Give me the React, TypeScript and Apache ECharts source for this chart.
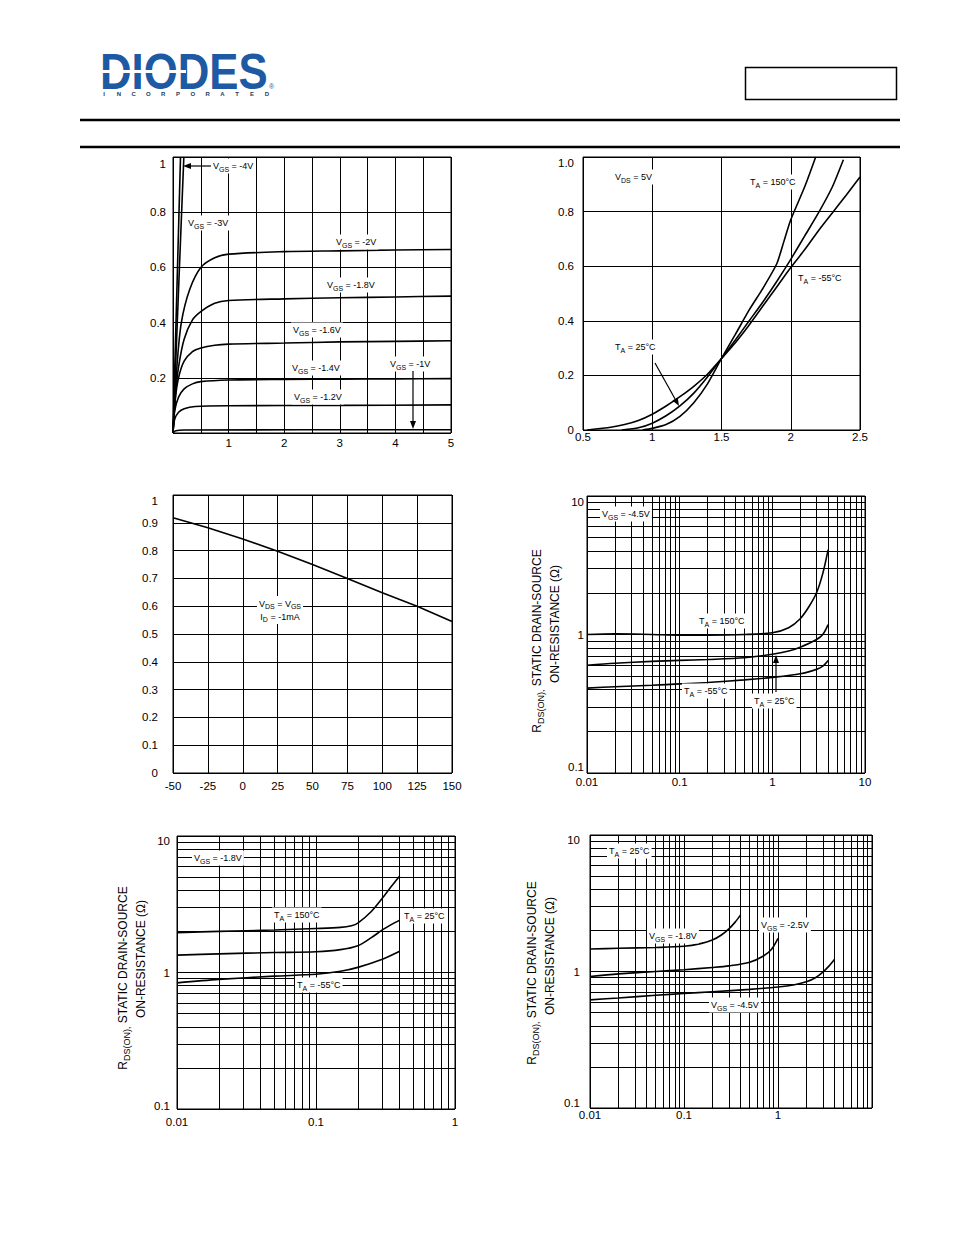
import React, { useEffect, useRef } from 'react';
import * as echarts from 'echarts';

const FONT = '"Liberation Sans", Arial, Helvetica, sans-serif';
const INK = '#000000';
const BLUE = '#1d5aa3';

// ---------- Chart 1: drain current vs drain-source voltage ----------
const c1XLabels = ['', '', '1', '', '2', '', '3', '', '4', '', '5'];
const c1YLabels = ['', '0.2', '0.4', '0.6', '0.8', '{t1|1}'];
const c1Vgs4 = [[0, 0], [0.135, 1.0]];
const c1Vgs3 = [[0, 0], [0.1, 0.52], [0.195, 1.0]];
const c1Vgs2 = [[0, 0], [0.07, 0.24], [0.15, 0.4], [0.3, 0.52], [0.5, 0.6], [0.75, 0.635], [1, 0.648], [2, 0.657], [3, 0.66], [4, 0.663], [5, 0.665]];
const c1Vgs18 = [[0, 0], [0.05, 0.15], [0.1, 0.24], [0.2, 0.34], [0.35, 0.41], [0.5, 0.44], [0.75, 0.47], [1, 0.48], [2, 0.486], [3, 0.49], [4, 0.493], [5, 0.496]];
const c1Vgs16 = [[0, 0], [0.04, 0.12], [0.1, 0.2], [0.2, 0.26], [0.35, 0.295], [0.5, 0.308], [0.75, 0.318], [1, 0.322], [2, 0.326], [3, 0.33], [4, 0.332], [5, 0.334]];
const c1Vgs14 = [[0, 0], [0.03, 0.08], [0.1, 0.13], [0.2, 0.16], [0.35, 0.178], [0.5, 0.186], [1, 0.192], [2, 0.194], [3, 0.195], [4, 0.196], [5, 0.197]];
const c1Vgs12 = [[0, 0], [0.03, 0.05], [0.1, 0.075], [0.2, 0.088], [0.4, 0.096], [1, 0.099], [3, 0.1], [5, 0.102]];
const c1Vgs10 = [[0, 0], [0.05, 0.008], [0.2, 0.011], [5, 0.012]];

// ---------- Chart 2: drain current vs gate-source voltage ----------
const c2XLabels = ['0.5', '1', '1.5', '2', '2.5'];
const c2YLabels = ['0', '0.2', '0.4', '0.6', '0.8', '{t2|1.0}'];
const c2Ta150 = [[0.93, 0], [1.0, 0.006], [1.1, 0.02], [1.2, 0.05], [1.3, 0.1], [1.4, 0.17], [1.5, 0.262], [1.6, 0.35], [1.7, 0.44], [1.8, 0.52], [1.9, 0.61], [1.95, 0.69], [2.0, 0.77], [2.1, 0.89], [2.18, 1.0]];
const c2Ta25 = [[0.78, 0], [0.9, 0.008], [1.0, 0.025], [1.1, 0.052], [1.2, 0.088], [1.3, 0.135], [1.4, 0.195], [1.5, 0.262], [1.6, 0.33], [1.7, 0.4], [1.8, 0.47], [1.9, 0.545], [2.0, 0.625], [2.1, 0.71], [2.2, 0.795], [2.3, 0.89], [2.38, 0.99]];
const c2Ta55 = [[0.53, 0], [0.7, 0.01], [0.8, 0.02], [0.9, 0.035], [1.0, 0.058], [1.1, 0.088], [1.2, 0.122], [1.3, 0.16], [1.4, 0.205], [1.5, 0.262], [1.6, 0.32], [1.7, 0.385], [1.8, 0.455], [1.9, 0.525], [2.0, 0.595], [2.1, 0.66], [2.2, 0.73], [2.3, 0.795], [2.4, 0.86], [2.5, 0.927]];

// ---------- Chart 3: gate threshold voltage vs temperature ----------
const c3XLabels = ['-50', '-25', '0', '25', '50', '75', '100', '125', '150'];
const c3YLabels = ['0', '0.1', '0.2', '0.3', '0.4', '0.5', '0.6', '0.7', '0.8', '0.9', '{t3|1}'];
const c3Vth = [[-50, 0.918], [-25, 0.882], [0, 0.842], [25, 0.798], [50, 0.75], [75, 0.7], [100, 0.648], [125, 0.6], [150, 0.545]];

// ---------- Chart 4: RDS(on) vs drain current, VGS = -4.5V ----------
const c4XLabels = ['0.01', '0.1', '1', '10'];
const c4YLabels = ['{b4|0.1}', '1', '{t4|10}'];
const c4Ta150 = [[0.01, 1.0], [0.02, 1.01], [0.05, 1.0], [0.1, 0.99], [0.2, 0.99], [0.5, 1.0], [1, 1.03], [1.5, 1.12], [2, 1.3], [2.5, 1.6], [3, 2.0], [3.5, 2.75], [4, 4.1]];
const c4Ta25 = [[0.01, 0.6], [0.02, 0.62], [0.05, 0.64], [0.1, 0.65], [0.2, 0.66], [0.5, 0.68], [1, 0.72], [1.5, 0.76], [2, 0.81], [3, 0.92], [3.5, 1.0], [4, 1.18]];
const c4Ta55 = [[0.01, 0.41], [0.02, 0.42], [0.05, 0.43], [0.1, 0.44], [0.2, 0.45], [0.5, 0.47], [1, 0.49], [2, 0.52], [3, 0.56], [3.5, 0.59], [4, 0.65]];

// ---------- Chart 5: RDS(on) vs drain current, VGS = -1.8V ----------
const c5XLabels = ['0.01', '0.1', '1'];
const c5YLabels = ['{b5|0.1}', '1', '{t5|10}'];
const c5Ta150 = [[0.01, 1.96], [0.02, 2.0], [0.05, 2.05], [0.1, 2.1], [0.15, 2.14], [0.18, 2.2], [0.2, 2.3], [0.25, 2.8], [0.3, 3.5], [0.35, 4.3], [0.4, 5.1]];
const c5Ta25 = [[0.01, 1.34], [0.02, 1.37], [0.05, 1.4], [0.1, 1.42], [0.15, 1.47], [0.2, 1.57], [0.25, 1.8], [0.3, 2.05], [0.35, 2.25], [0.4, 2.42]];
const c5Ta55 = [[0.01, 0.84], [0.02, 0.89], [0.05, 0.94], [0.1, 0.97], [0.15, 1.02], [0.2, 1.09], [0.3, 1.25], [0.4, 1.43]];

// ---------- Chart 6: RDS(on) vs drain current, TA = 25°C ----------
const c6XLabels = ['0.01', '0.1', '1', ''];
const c6YLabels = ['{b6|0.1}', '1', '{t6|10}'];
const c6Vgs18 = [[0.01, 1.46], [0.02, 1.48], [0.05, 1.5], [0.1, 1.53], [0.15, 1.6], [0.2, 1.7], [0.25, 1.85], [0.3, 2.05], [0.35, 2.3], [0.4, 2.6]];
const c6Vgs25 = [[0.01, 0.92], [0.02, 0.96], [0.05, 1.0], [0.1, 1.03], [0.2, 1.07], [0.3, 1.1], [0.5, 1.17], [0.7, 1.3], [0.85, 1.45], [1.0, 1.75]];
const c6Vgs45 = [[0.01, 0.62], [0.02, 0.64], [0.05, 0.67], [0.1, 0.69], [0.2, 0.71], [0.5, 0.74], [1, 0.77], [1.5, 0.8], [2, 0.84], [2.5, 0.9], [3, 0.99], [3.5, 1.1], [4, 1.23]];

const GRIDS = [
  { left: 173, top: 157, width: 278, height: 276 },
  { left: 583, top: 157, width: 277, height: 273 },
  { left: 173, top: 495, width: 279, height: 278 },
  { left: 587, top: 496, width: 278, height: 277 },
  { left: 177, top: 836, width: 278, height: 273 },
  { left: 590, top: 835, width: 282, height: 273 },
];

const lab = (size: number) => ({ fontSize: 11.5, fontFamily: FONT, color: INK, fill: INK, padding: size > 0 ? [size, 0, 0, 0] : [0, 0, -size, 0] });
const AXIS_RICH: any = {
  t1: lab(14), t2: lab(12), t3: lab(12), t4: lab(11), t5: lab(9), t6: lab(10),
  b4: lab(-12), b5: lab(-7), b6: lab(-11),
};

function axis(gridIndex: number, type: string, min: number, max: number, interval: number | null, labels: string[], margin: number) {
  const a: any = {
    type, gridIndex, min, max,
    axisLine: { show: false },
    axisTick: { show: false },
    splitLine: { show: true, lineStyle: { color: INK, width: 1, opacity: 1 } },
    axisLabel: {
      show: true, margin, color: INK, fontSize: 11.5, fontFamily: FONT,
      showMinLabel: true, showMaxLabel: true,
      formatter: (_v: number, i: number) => (labels[i] ?? ''),
      rich: AXIS_RICH,
    },
  };
  if (interval != null) a.interval = interval;
  if (type === 'log') a.logBase = 10;
  return a;
}

function curve(idx: number, name: string, data: number[][], smooth: number | boolean = 0.3) {
  return {
    type: 'line', name, xAxisIndex: idx, yAxisIndex: idx, data,
    showSymbol: false, symbol: 'none', smooth,
    lineStyle: { color: INK, width: 1.6 }, itemStyle: { color: INK },
    clip: true, silent: true, z: 5,
  };
}

function minorGrid(idx: number, xDecades: number[], yDecades: number[]) {
  const minors = (ds: number[]) => ds.flatMap((d) => [2, 3, 4, 5, 6, 7, 8, 9].map((k) => +(d * k).toPrecision(3)));
  return {
    type: 'line', xAxisIndex: idx, yAxisIndex: idx, data: [], silent: true, z: 1,
    markLine: {
      silent: true, symbol: ['none', 'none'], animation: false,
      label: { show: false },
      lineStyle: { color: INK, width: 1, type: 'solid', opacity: 1 },
      emphasis: { disabled: true },
      data: [...minors(xDecades).map((v) => ({ xAxis: v })), ...minors(yDecades).map((v) => ({ yAxis: v }))],
    },
  };
}

const NOTE_RICH: any = {
  a: { fontSize: 9, fontFamily: FONT, fill: INK, color: INK },
  s: { fontSize: 7, fontFamily: FONT, fill: INK, color: INK, padding: [6, 0, 0, 0] },
};
const vgs = (v: string) => `{a|V}{s|GS}{a| = ${v}}`;
const ta = (t: string) => `{a|T}{s|A}{a| = ${t}}`;

function note(x: number, y: number, text: string, align = 'left') {
  return {
    type: 'text', x, y, z: 100, silent: true,
    style: {
      text, rich: NOTE_RICH, fill: INK, font: `9px ${FONT}`,
      align, verticalAlign: 'middle', textAlign: align, textVerticalAlign: 'middle',
      backgroundColor: '#ffffff', padding: [1, 2],
    },
  };
}

function arrow(x1: number, y1: number, x2: number, y2: number) {
  const dx = x2 - x1, dy = y2 - y1;
  const len = Math.hypot(dx, dy);
  const ux = dx / len, uy = dy / len;
  const L = 8, W = 3;
  const bx = x2 - ux * L, by = y2 - uy * L;
  return [
    { type: 'line', z: 101, silent: true, shape: { x1, y1, x2: bx, y2: by }, style: { stroke: INK, lineWidth: 1.2 } },
    { type: 'polygon', z: 101, silent: true, shape: { points: [[x2, y2], [bx - uy * W, by + ux * W], [bx + uy * W, by - ux * W]] }, style: { fill: INK } },
  ];
}

function yName(x: number, y: number, line: 1 | 2) {
  const text = line === 1 ? '{b|R}{bs|DS(ON),}{b| STATIC DRAIN-SOURCE}' : '{b|ON-RESISTANCE (Ω)}';
  return {
    type: 'text', x, y, rotation: Math.PI / 2, z: 100, silent: true,
    style: {
      text, fill: INK, font: `12px ${FONT}`,
      rich: {
        b: { fontSize: 12, fontFamily: FONT, fill: INK, color: INK },
        bs: { fontSize: 9, fontFamily: FONT, fill: INK, color: INK, padding: [7, 0, 0, 0] },
      },
      align: 'center', verticalAlign: 'middle', textAlign: 'center', textVerticalAlign: 'middle',
    },
  };
}

function buildOption() {
  const xAxis = [
    axis(0, 'value', 0, 5, 0.5, c1XLabels, 4),
    axis(1, 'value', 0.5, 2.5, 0.5, c2XLabels, 1),
    axis(2, 'value', -50, 150, 25, c3XLabels, 7),
    axis(3, 'log', 0.01, 10, null, c4XLabels, 3),
    axis(4, 'log', 0.01, 1, null, c5XLabels, 7),
    axis(5, 'log', 0.01, 10, null, c6XLabels, 1),
  ];
  const yAxis = [
    axis(0, 'value', 0, 1, 0.2, c1YLabels, 7),
    axis(1, 'value', 0, 1, 0.2, c2YLabels, 9),
    axis(2, 'value', 0, 1, 0.1, c3YLabels, 15),
    axis(3, 'log', 0.1, 10, null, c4YLabels, 3),
    axis(4, 'log', 0.1, 10, null, c5YLabels, 7),
    axis(5, 'log', 0.1, 10, null, c6YLabels, 10),
  ];
  const series: any[] = [
    minorGrid(3, [0.01, 0.1, 1], [0.1, 1]),
    minorGrid(4, [0.01, 0.1], [0.1, 1]),
    minorGrid(5, [0.01, 0.1, 1], [0.1, 1]),
    curve(0, 'VGS -4V', c1Vgs4), curve(0, 'VGS -3V', c1Vgs3), curve(0, 'VGS -2V', c1Vgs2),
    curve(0, 'VGS -1.8V', c1Vgs18), curve(0, 'VGS -1.6V', c1Vgs16), curve(0, 'VGS -1.4V', c1Vgs14),
    curve(0, 'VGS -1.2V', c1Vgs12), curve(0, 'VGS -1V', c1Vgs10),
    curve(1, 'TA 150', c2Ta150, 0.2), curve(1, 'TA 25', c2Ta25, 0.2), curve(1, 'TA -55', c2Ta55, 0.2),
    curve(2, 'VGS(th)', c3Vth, false),
    curve(3, 'TA 150', c4Ta150), curve(3, 'TA 25', c4Ta25), curve(3, 'TA -55', c4Ta55),
    curve(4, 'TA 150', c5Ta150), curve(4, 'TA 25', c5Ta25), curve(4, 'TA -55', c5Ta55),
    curve(5, 'VGS -1.8V', c6Vgs18), curve(5, 'VGS -2.5V', c6Vgs25), curve(5, 'VGS -4.5V', c6Vgs45),
  ];

  const incorporated = 'INCORPORATED'.split('').map((ch, i) => ({
    type: 'text', x: 104 + i * 14.8, y: 93.5, z: 100, silent: true,
    style: { text: ch, fill: '#243b5e', font: `bold 6px ${FONT}`, align: 'center', verticalAlign: 'middle', textAlign: 'center', textVerticalAlign: 'middle' },
  }));

  const elements: any[] = [
    // header
    { type: 'text', x: 100, y: 71, scaleX: 0.875, z: 100, silent: true, style: { text: 'DIODES', fill: BLUE, font: `bold 50px ${FONT}`, align: 'left', verticalAlign: 'middle', textAlign: 'left', textVerticalAlign: 'middle' } },
    { type: 'rect', z: 101, silent: true, shape: { x: 100, y: 70, width: 86, height: 3 }, style: { fill: '#ffffff' } },
    ...incorporated,
    { type: 'text', x: 269, y: 86, z: 100, silent: true, style: { text: '®', fill: BLUE, font: `7px ${FONT}`, align: 'left', verticalAlign: 'middle', textAlign: 'left', textVerticalAlign: 'middle' } },
    { type: 'rect', z: 100, silent: true, shape: { x: 745.5, y: 67.5, width: 151, height: 32 }, style: { fill: 'none', stroke: INK, lineWidth: 1.5 } },
    { type: 'line', z: 100, silent: true, shape: { x1: 80, y1: 120, x2: 900, y2: 120 }, style: { stroke: INK, lineWidth: 2.5 } },
    { type: 'line', z: 100, silent: true, shape: { x1: 80, y1: 147, x2: 900, y2: 147 }, style: { stroke: INK, lineWidth: 2.5 } },

    // chart 1 notes
    note(211, 166, vgs('-4V')), ...arrow(211, 166, 183, 166),
    note(186, 223, vgs('-3V')),
    note(334, 242, vgs('-2V')),
    note(325, 285, vgs('-1.8V')),
    note(291, 330, vgs('-1.6V')),
    note(290, 368, vgs('-1.4V')),
    note(292, 397, vgs('-1.2V')),
    note(388, 364, vgs('-1V')), ...arrow(413, 371, 413, 429),

    // chart 2 notes
    note(613, 177, '{a|V}{s|DS}{a| = 5V}'),
    note(748, 182, ta('150°C')),
    note(796, 278, ta('-55°C')),
    note(613, 347, ta('25°C')), ...arrow(655, 363, 679, 406),

    // chart 3 note
    note(280, 610, '{a|V}{s|DS}{a| = V}{s|GS}\n{a|I}{s|D}{a| = -1mA}', 'center'),

    // chart 4 notes
    yName(537, 641, 1), yName(555, 624, 2),
    note(600, 514, vgs('-4.5V')),
    note(697, 621, ta('150°C')),
    note(682, 691, ta('-55°C')),
    note(752, 701, ta('25°C')), ...arrow(776, 692, 776, 655),

    // chart 5 notes
    yName(123, 978, 1), yName(141, 959, 2),
    note(192, 858, vgs('-1.8V')),
    note(272, 915, ta('150°C')),
    note(402, 916, ta('25°C')),
    note(295, 985, ta('-55°C')),

    // chart 6 notes
    yName(532, 973, 1), yName(550, 956, 2),
    note(607, 851, ta('25°C')),
    note(647, 936, vgs('-1.8V')),
    note(759, 925, vgs('-2.5V')),
    note(709, 1005, vgs('-4.5V')),
  ];

  return {
    animation: false,
    backgroundColor: '#ffffff',
    textStyle: { fontFamily: FONT },
    grid: GRIDS.map((g) => ({ ...g, show: true, borderColor: INK, borderWidth: 1, backgroundColor: 'transparent', containLabel: false })),
    xAxis,
    yAxis,
    series,
    graphic: { elements },
  };
}

export default function App() {
  const ref = useRef<HTMLDivElement>(null);
  useEffect(() => {
    if (!ref.current) return;
    const chart = echarts.init(ref.current, null, { renderer: 'svg', width: 954, height: 1235 });
    chart.setOption(buildOption() as any);
    return () => chart.dispose();
  }, []);
  return <div ref={ref} style={{ position: 'absolute', left: 0, top: 0, width: 954, height: 1235, background: '#ffffff' }} />;
}
